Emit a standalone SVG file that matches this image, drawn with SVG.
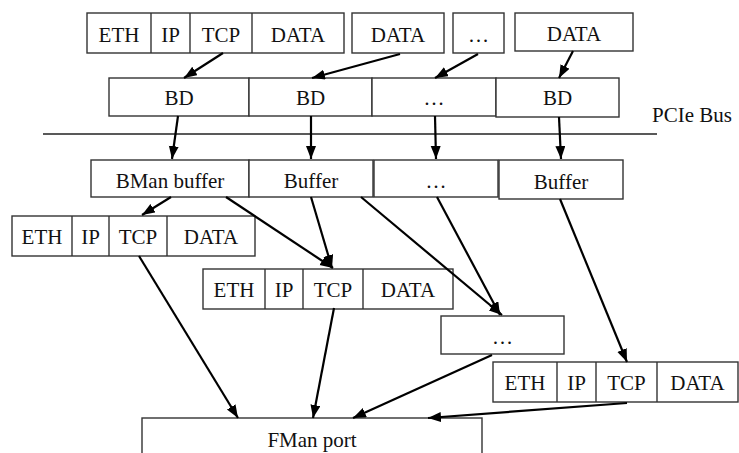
<svg xmlns="http://www.w3.org/2000/svg" width="739" height="453" viewBox="0 0 739 453" font-family="'Liberation Serif', 'Times New Roman', 'DejaVu Serif', serif">
<style>
rect{fill:#fff;stroke:#333;stroke-width:1.4}
.d{stroke:#333;stroke-width:1.4}
text{font-family:'Liberation Serif','Times New Roman','DejaVu Serif',serif;font-size:21px;fill:#111;text-anchor:middle}
.c line{stroke:#000;stroke-width:2.2;marker-end:url(#ah)}
</style>
<defs>
<marker id="ah" markerUnits="userSpaceOnUse" markerWidth="14" markerHeight="12" refX="13" refY="5" orient="auto">
<path d="M0,0 L13,5 L0,10 Z" fill="#000"/>
</marker>
</defs>
<g id="top-packet">
<rect x="87" y="13" width="257" height="40"/>
<line class="d" x1="151" y1="13" x2="151" y2="53"/>
<line class="d" x1="190" y1="13" x2="190" y2="53"/>
<line class="d" x1="252" y1="13" x2="252" y2="53"/>
<text x="119" y="42">ETH</text><text x="170.5" y="42">IP</text><text x="221" y="42">TCP</text><text x="298" y="42">DATA</text>
</g>
<g id="top-data2"><rect x="352" y="13" width="92" height="40"/><text x="398" y="42">DATA</text></g>
<g id="top-dots"><rect x="453" y="13" width="51" height="40"/><text x="478.5" y="42">…</text></g>
<g id="top-data3"><rect x="515" y="13" width="118" height="38"/><text x="574" y="41">DATA</text></g>
<g id="bd-row">
<rect x="109" y="78" width="140" height="38"/><text x="179" y="105">BD</text>
<rect x="249" y="78" width="123" height="38"/><text x="310.5" y="105">BD</text>
<rect x="372" y="78" width="124" height="38"/><text x="434" y="105">…</text>
<rect x="496" y="78" width="123" height="39"/><text x="557.5" y="105">BD</text>
</g>
<g id="pcie-bus">
<line x1="43" y1="134" x2="657" y2="134" stroke="#222" stroke-width="1.4"/>
<text x="652" y="122" style="text-anchor:start">PCIe Bus</text>
</g>
<g id="buffer-row">
<rect x="91" y="160" width="158" height="37"/><text x="170" y="188">BMan buffer</text>
<rect x="249" y="160" width="124" height="37"/><text x="311" y="188">Buffer</text>
<rect x="374" y="160" width="124" height="37"/><text x="436" y="188">…</text>
<rect x="499" y="160" width="124" height="39"/><text x="561" y="189">Buffer</text>
</g>
<g id="packet-a">
<rect x="12" y="216" width="243" height="40"/>
<line class="d" x1="72" y1="216" x2="72" y2="256"/>
<line class="d" x1="109" y1="216" x2="109" y2="256"/>
<line class="d" x1="167" y1="216" x2="167" y2="256"/>
<text x="42" y="244">ETH</text><text x="90.5" y="244">IP</text><text x="138" y="244">TCP</text><text x="211" y="244">DATA</text>
</g>
<g id="packet-b">
<rect x="203" y="269" width="250" height="40"/>
<line class="d" x1="265" y1="269" x2="265" y2="309"/>
<line class="d" x1="303" y1="269" x2="303" y2="309"/>
<line class="d" x1="363" y1="269" x2="363" y2="309"/>
<text x="234" y="297">ETH</text><text x="284" y="297">IP</text><text x="333" y="297">TCP</text><text x="408" y="297">DATA</text>
</g>
<g id="dots-box"><rect x="441" y="316" width="123" height="38"/><text x="502.5" y="344">…</text></g>
<g id="packet-c">
<rect x="493" y="362" width="245" height="40"/>
<line class="d" x1="557" y1="362" x2="557" y2="402"/>
<line class="d" x1="596" y1="362" x2="596" y2="402"/>
<line class="d" x1="657" y1="362" x2="657" y2="402"/>
<text x="525" y="390">ETH</text><text x="576.5" y="390">IP</text><text x="626.5" y="390">TCP</text><text x="697.5" y="390">DATA</text>
</g>
<g id="fman-port"><rect x="142" y="418" width="340" height="45"/><text x="312" y="447">FMan port</text></g>
<g class="c" id="connectors">
<line x1="223" y1="53" x2="184" y2="78"/>
<line x1="400" y1="54" x2="312" y2="78"/>
<line x1="478" y1="54" x2="435" y2="78"/>
<line x1="573" y1="51" x2="559" y2="78"/>
<line x1="178" y1="116" x2="172" y2="159"/>
<line x1="311" y1="116" x2="311" y2="159"/>
<line x1="435" y1="116" x2="436" y2="159"/>
<line x1="559" y1="117" x2="561" y2="159"/>
<line x1="171" y1="197" x2="142" y2="215"/>
<line x1="226" y1="197" x2="333" y2="268"/>
<line x1="311" y1="197" x2="332" y2="268"/>
<line x1="361" y1="197" x2="502" y2="315"/>
<line x1="437" y1="197" x2="500" y2="315"/>
<line x1="560" y1="199" x2="627" y2="362"/>
<line x1="139" y1="256" x2="238" y2="418"/>
<line x1="334" y1="308" x2="313" y2="418"/>
<line x1="492" y1="355" x2="353" y2="418"/>
<line x1="627" y1="403" x2="428" y2="418"/>
</g>
</svg>
